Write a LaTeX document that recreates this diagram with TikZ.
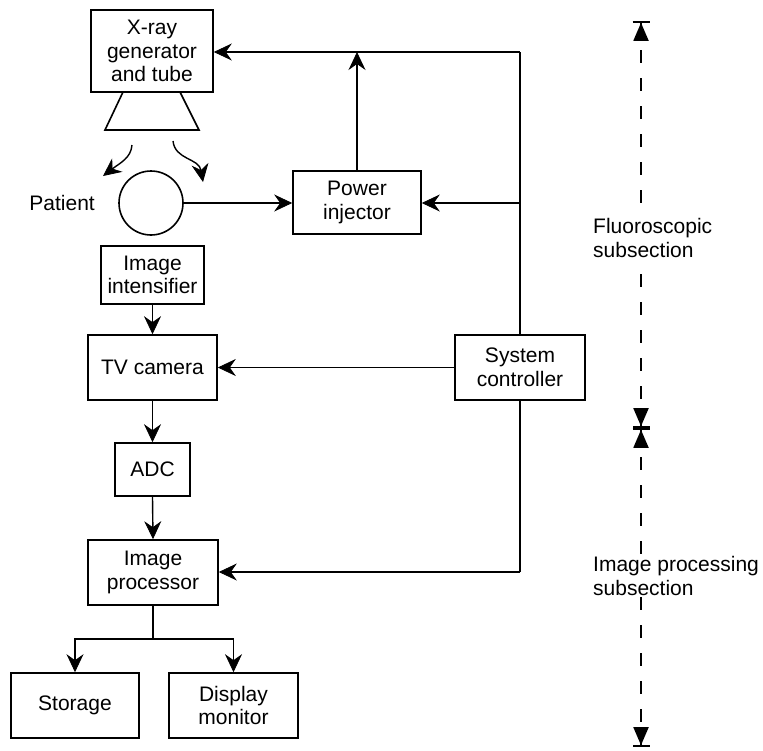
\documentclass[tikz,border=0pt]{standalone}
\usepackage{fontspec}
\setmainfont{Liberation Sans}
\usetikzlibrary{arrows.meta}
\begin{document}
\begin{tikzpicture}[x=1pt,y=-1pt,
  txt/.style={font=\fontsize{21}{23.5}\selectfont,align=center,inner sep=0pt},
  box/.style={txt,draw,line width=1.6pt},
  conn/.style={line width=1.4pt},
  arr/.style={conn,-{Stealth[length=18pt,width=17pt,inset=6pt,line width=0.8pt]}},
  dim/.style={line width=1.8pt,dash pattern=on 13pt off 15pt,
    {Bar[width=17pt]Triangle[length=18pt,width=15pt]}-{Triangle[length=18pt,width=15pt]Bar[width=17pt]}},
  lab/.style={font=\fontsize{21}{23.5}\selectfont,align=left,inner sep=2pt,fill=white}]
\useasboundingbox (0,0) rectangle (763,750);

% boxes
\node[box,minimum width=122pt,minimum height=82pt] (xray) at (152,51) {X-ray\\generator\\and tube};
\node[box,circle,minimum size=64pt] (pat) at (151,203) {};
\node[txt,anchor=east] (patl) at (95,203) {Patient};
\node[box,minimum width=128pt,minimum height=63pt] (pinj) at (357,202.5) {Power\\injector};
\node[box,minimum width=103pt,minimum height=58pt] (intens) at (152.5,275) {Image\\intensifier};
\node[box,minimum width=129pt,minimum height=65pt] (tv) at (152.5,367.5) {TV camera};
\node[box,minimum width=75pt,minimum height=53pt] (adc) at (152.5,469.5) {ADC};
\node[box,minimum width=130pt,minimum height=65pt] (iproc) at (153,572.5) {Image\\processor};
\node[box,minimum width=130pt,minimum height=65pt] (sysc) at (520,367.5) {System\\controller};
\node[box,minimum width=128pt,minimum height=65pt] (stor) at (75,705.5) {Storage};
\node[box,minimum width=129pt,minimum height=65pt] (disp) at (233.5,705.5) {Display\\monitor};

% tube
\draw[line width=1.6pt,line join=miter] (123,92) -- (105,130) -- (199,130) -- (180,92);

% radiation arrows
\coordinate (ra1) at (132,145);
\coordinate (ra2) at (103,176);
\coordinate (rb1) at (173,141);
\coordinate (rb2) at (203,182);
\draw[arr] (ra1) .. controls (131,158) and (120,163) .. (ra2);
\draw[arr] (rb1) .. controls (175,160) and (199,158) .. (rb2);

% control lines
\coordinate (tr) at (520,52);
\coordinate (rm) at (520,203);
\coordinate (rb) at (520,572);
\draw[conn] (sysc.north) -- (tr);
\draw[arr] (tr) -- (xray.east |- tr);
\draw[arr] (rm) -- (pinj.east |- rm);
\draw[arr] (pinj.north) -- (pinj.north |- tr);
\draw[arr] (pat.east) -- (pinj.west |- pat.east);
\draw[arr] (sysc.west) -- (tv.east);
\draw[conn] (sysc.south) -- (rb);
\draw[arr] (rb) -- (iproc.east |- rb);

% image chain
\draw[arr] (intens.south) -- (tv.north);
\draw[arr] (tv.south) -- (adc.north);
\draw[arr] (adc.south) -- (iproc.north);
\coordinate (sp) at (153,639);
\draw[conn] (iproc.south) -- (sp);
\draw[arr] (sp) -| (stor.north);
\draw[arr] (sp) -| (disp.north);

% subsection dimension line
\coordinate (d0) at (641,21);
\coordinate (d1) at (641,428);
\coordinate (d2) at (641,747);
\draw[dim] (d0) -- (d1);
\draw[dim] (d1) -- (d2);
\node[lab,anchor=west] (fl) at (591,238) {Fluoroscopic\\subsection};
\node[lab,anchor=west] (ip) at (591,576) {Image processing\\subsection};
\end{tikzpicture}
\end{document}
